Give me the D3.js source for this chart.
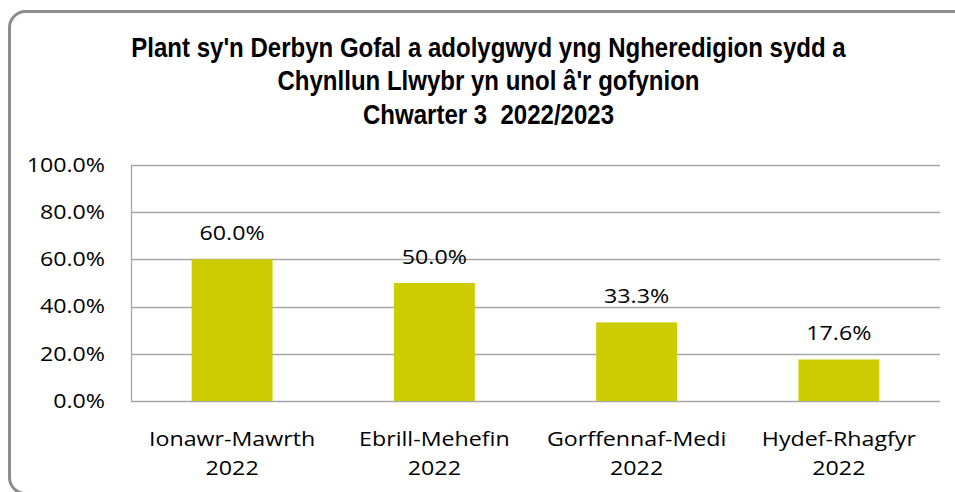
<!DOCTYPE html>
<html>
<head>
<meta charset="utf-8">
<script src="https://cdn.jsdelivr.net/npm/d3@7"></script>
<style>
  body { margin: 0; background: #fff; }
</style>
</head>
<body>
<div id="chart"></div>
<script>
// data
var quarters = ["Ionawr-Mawrth", "Ebrill-Mehefin", "Gorffennaf-Medi", "Hydef-Rhagfyr"];
var years = ["2022", "2022", "2022", "2022"];
var percentages = [60.0, 50.0, 33.3, 17.6];
var yTicks = [0, 20, 40, 60, 80, 100];
var titleLines = ["Plant sy'n Derbyn Gofal a adolygwyd yng Ngheredigion sydd a", "Chynllun Llwybr yn unol â'r gofynion", "Chwarter 3  2022/2023"];

var svgWidth = 955;
var svgHeight = 492;

var margin = {
	top: 165,
	right: 15,
	bottom: 91,
	left: 131
};

var width = svgWidth - margin.left - margin.right;
var height = svgHeight - margin.top - margin.bottom;

// the original text looks stretched sideways, so scale it a bit
var bodyFont = "'Open Sans', Lato, sans-serif";
var bodySize = 19.5;
var stretch = 1.19;

var svg = d3.select("#chart")
	.append("svg")
	.attr("width", svgWidth)
	.attr("height", svgHeight);

// rounded frame
svg.append("rect")
	.attr("x", 9.5)
	.attr("y", 11.5)
	.attr("width", 960)
	.attr("height", 482)
	.attr("rx", 16)
	.attr("fill", "#fff")
	.attr("stroke", "#8c8c8c")
	.attr("stroke-width", 3);

// title (narrow bold)
svg.append("text")
	.attr("transform", "translate(488.5, 0) scale(0.89, 1)")
	.attr("text-anchor", "middle")
	.attr("font-family", "'Liberation Sans', Arial, sans-serif")
	.attr("font-weight", "bold")
	.attr("font-size", 27)
	.attr("fill", "#000")
	.selectAll("tspan")
	.data(titleLines)
	.enter()
	.append("tspan")
	.attr("x", 0)
	.attr("y", (d, i) => 57 + i * 33.5)
	.attr("xml:space", "preserve")
	.style("white-space", "pre")
	.text(d => d);

var chartGroup = svg.append("g")
	.attr("transform", `translate(${margin.left}, ${margin.top})`);

var data = quarters.map((q, i) => ({ quarter: q, year: years[i], value: percentages[i] }));

var xBandScale = d3.scaleBand()
	.domain(quarters)
	.range([0, width])
	.paddingInner(0.6)
	.paddingOuter(0.3);

var yLinearScale = d3.scaleLinear()
	.domain([0, 100])
	.range([height, 0]);

// gridlines
chartGroup.append("g")
	.selectAll("line")
	.data(yTicks)
	.enter()
	.append("line")
	.attr("x1", 0)
	.attr("x2", width)
	.attr("y1", d => Math.round(yLinearScale(d)) + 0.5)
	.attr("y2", d => Math.round(yLinearScale(d)) + 0.5)
	.attr("stroke", "#a6a6a6")
	.attr("stroke-width", 1.3);

// y axis
var leftAxis = d3.axisLeft(yLinearScale)
	.tickValues(yTicks)
	.tickSize(0)
	.tickPadding(26)
	.tickFormat(d => d.toFixed(1) + "%");

var yAxis = chartGroup.append("g")
	.call(leftAxis);
yAxis.select(".domain").attr("stroke", "#a6a6a6").attr("stroke-width", 1.3);
yAxis.selectAll(".tick text")
	.attr("x", null)
	.attr("transform", `translate(-26, 0) scale(${stretch}, 1)`)
	.attr("font-family", bodyFont)
	.attr("font-size", bodySize)
	.attr("fill", "#000");

// bars
chartGroup.selectAll("rect.bar")
	.data(data)
	.enter()
	.append("rect")
	.attr("class", "bar")
	.attr("x", d => xBandScale(d.quarter))
	.attr("y", d => yLinearScale(d.value))
	.attr("width", xBandScale.bandwidth())
	.attr("height", d => height - yLinearScale(d.value))
	.attr("fill", "#cccc00");

// value labels
chartGroup.selectAll("text.val")
	.data(data)
	.enter()
	.append("text")
	.attr("class", "val")
	.attr("transform", d => `translate(${xBandScale(d.quarter) + xBandScale.bandwidth() / 2}, ${yLinearScale(d.value) - 19}) scale(${stretch}, 1)`)
	.attr("text-anchor", "middle")
	.attr("font-family", bodyFont)
	.attr("font-size", bodySize)
	.attr("fill", "#000")
	.text(d => d.value.toFixed(1) + "%");

// category labels
var catLabels = chartGroup.selectAll("text.cat")
	.data(data)
	.enter()
	.append("text")
	.attr("class", "cat")
	.attr("transform", d => `translate(${xBandScale(d.quarter) + xBandScale.bandwidth() / 2}, ${height}) scale(${stretch}, 1)`)
	.attr("text-anchor", "middle")
	.attr("font-family", bodyFont)
	.attr("font-size", bodySize)
	.attr("fill", "#000");

catLabels.append("tspan")
	.attr("x", 0)
	.attr("y", 45)
	.text(d => d.quarter);

catLabels.append("tspan")
	.attr("x", 0)
	.attr("y", 74)
	.text(d => d.year);
</script>
</body>
</html>
